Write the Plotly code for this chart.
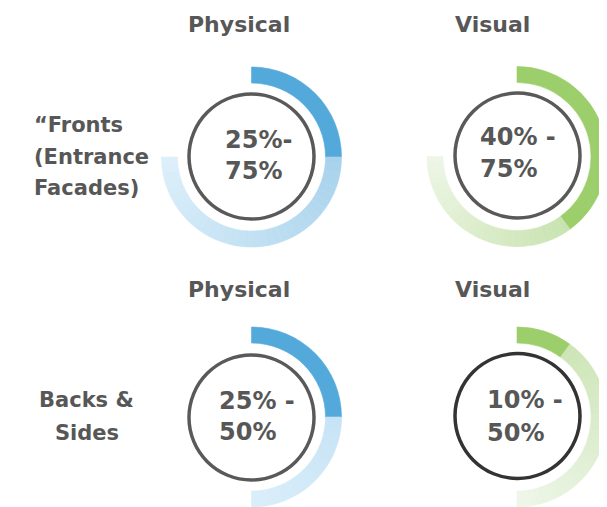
import plotly.graph_objects as go

# ---------------- data ----------------
col_titles = ["Physical", "Visual"]
row_labels = [["“Fronts", "(Entrance", "Facades)"], ["Backs &", "Sides"]]
low_pct = [25, 40, 25, 10]      # dark (minimum) share
high_pct = [75, 75, 50, 50]     # light (maximum) share
range_lines = [["25%-", "75%"], ["40% -", "75%"], ["25% -", "50%"], ["10% -", "50%"]]

# ---------------- style / layout ----------------
W, H = 607, 507
OFF = 8          # page body margin of the html page
TXT = "#575757"
FONT = "DejaVu Sans"
BLUE_DARK = "#54A9DB"
GREEN_DARK = "#9CCE6B"
styles = [
    dict(dark=BLUE_DARK, g0="#A8D2EC", g1="#DCEFFA", circ="#595959"),
    dict(dark=GREEN_DARK, g0="#C9E3B0", g1="#EDF6E6", circ="#595959"),
    dict(dark=BLUE_DARK, g0="#C6E3F5", g1="#DAEEFA", circ="#595959"),
    dict(dark=GREEN_DARK, g0="#CDE5B7", g1="#EEF6E9", circ="#333333"),
]
# positions given in screenshot pixels
centers = [(251.5, 157), (517, 156.5), (251.5, 417), (517, 417)]
circ_centers = [(251.5, 156.5), (517.5, 155.5), (251.5, 417.5), (517.5, 416)]
R_OUT, R_IN = 90, 74
C_OUT, C_IN = 64.25, 60.75
num_left = [223, 478, 217, 485]
num_y = [(140, 171), (137, 169), (400.5, 432), (399.5, 432.5)]
title_x = [239, 492.5]
title_y = [25, 289]

NSEG = 36


def px(x):
    return (x - OFF) / W


def py(y):
    return 1 - (y - OFF) / H


def hex2rgb(h):
    h = h.lstrip("#")
    return tuple(int(h[i:i + 2], 16) for i in (0, 2, 4))


def lerp(c1, c2, t):
    a, b = hex2rgb(c1), hex2rgb(c2)
    return "rgb(%d,%d,%d)" % tuple(round(a[i] + (b[i] - a[i]) * t) for i in range(3))


def domain(cx, cy, r):
    x0, x1 = px(cx - r), px(cx + r)
    y0, y1 = py(cy + r), py(cy - r)
    if y0 < 0:
        y1 -= y0
        y0 = 0.0
    if x1 > 1:
        x0 -= (x1 - 1)
        x1 = 1.0
    return dict(x=[x0, x1], y=[y0, y1])


fig = go.Figure()

for i in range(4):
    lo, hi = low_pct[i], high_pct[i]
    st = styles[i]
    seg = (hi - lo) / NSEG
    values = [lo] + [seg] * NSEG + [100 - hi]
    colors = [st["dark"]] + [lerp(st["g0"], st["g1"], k / (NSEG - 1)) for k in range(NSEG)] + ["rgba(0,0,0,0)"]
    lw = [0.6] * (NSEG + 1) + [0]
    cx, cy = centers[i]
    fig.add_trace(go.Pie(
        values=values, sort=False, direction="clockwise", rotation=0,
        hole=R_IN / R_OUT, domain=domain(cx, cy, R_OUT),
        marker=dict(colors=colors, line=dict(color=colors, width=lw)),
        textinfo="none", hoverinfo="skip", showlegend=False,
    ))
    ccx, ccy = circ_centers[i]
    fig.add_trace(go.Pie(
        values=[1], hole=C_IN / C_OUT, domain=domain(ccx, ccy, C_OUT),
        marker=dict(colors=[st["circ"]], line=dict(width=0)),
        textinfo="none", hoverinfo="skip", showlegend=False,
    ))

annotations = []
# column titles
for r in range(2):
    for c in range(2):
        annotations.append(dict(
            text="<b>%s</b>" % col_titles[c], x=px(title_x[c]), y=py(title_y[r]),
            xref="paper", yref="paper", xanchor="center", yanchor="middle", showarrow=False,
            font=dict(family=FONT, size=22, color=TXT)))

# row labels
fr_y = [125.5, 157, 188]
for k, line in enumerate(row_labels[0]):
    annotations.append(dict(
        text="<b>%s</b>" % line, x=px(32), y=py(fr_y[k]),
        xref="paper", yref="paper", xanchor="left", yanchor="middle", showarrow=False,
        font=dict(family=FONT, size=21, color=TXT)))
bs_y = [400, 433]
for k, line in enumerate(row_labels[1]):
    annotations.append(dict(
        text="<b>%s</b>" % line, x=px(86.5), y=py(bs_y[k]),
        xref="paper", yref="paper", xanchor="center", yanchor="middle", showarrow=False,
        font=dict(family=FONT, size=21, color=TXT)))

# centre range labels
for i in range(4):
    for k, line in enumerate(range_lines[i]):
        annotations.append(dict(
            text="<b>%s</b>" % line, x=px(num_left[i]), y=py(num_y[i][k]),
            xref="paper", yref="paper", xanchor="left", yanchor="middle", showarrow=False,
            font=dict(family=FONT, size=24, color=TXT)))

fig.update_layout(
    width=W, height=H, margin=dict(l=0, r=0, t=0, b=0),
    paper_bgcolor="white", plot_bgcolor="white",
    showlegend=False, annotations=annotations,
)

fig.write_html("out.html", config=dict(displayModeBar=False))
